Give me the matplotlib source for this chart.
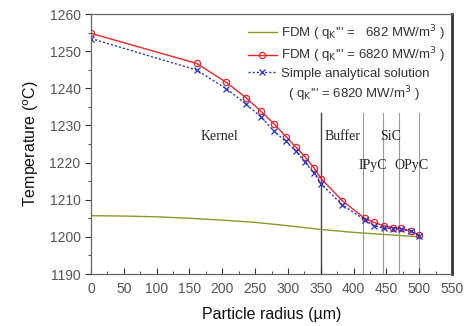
import matplotlib
matplotlib.use("Agg")
import matplotlib.pyplot as plt
from matplotlib.ticker import MultipleLocator

# ---- data ----
r_fdm = [0, 161, 206, 236, 259, 279, 297, 312, 326, 340, 351, 383, 417, 431, 446, 460, 472, 487, 500]
t_fdm_high = [1254.8, 1246.7, 1241.6, 1237.5, 1233.8, 1230.4, 1227.0, 1224.2, 1221.6, 1218.5,
              1215.6, 1209.7, 1205.0, 1203.9, 1203.0, 1202.5, 1202.3, 1201.6, 1200.5]
t_analytic = [1253.4, 1244.9, 1239.9, 1235.8, 1232.3, 1228.4, 1225.7, 1223.1, 1220.1, 1217.1,
              1214.2, 1208.6, 1204.6, 1203.0, 1202.4, 1202.2, 1202.1, 1201.6, 1200.2]
r_low = [0, 50, 100, 150, 200, 250, 300, 350, 400, 450, 500]
t_fdm_low = [1205.7, 1205.6, 1205.4, 1205.0, 1204.5, 1203.9, 1203.0, 1202.0, 1201.2, 1200.6, 1200.0]

boundaries = [350, 415, 445, 470, 500]
layer_names = ["Kernel", "Buffer", "IPyC", "SiC", "OPyC"]
layer_x = [196, 383, 430, 457, 488]
layer_y = [1226.9, 1226.9, 1219.3, 1226.9, 1219.3]

xticks = list(range(0, 551, 50))
yticks = list(range(1190, 1261, 10))

# ---- figure ----
plt.rcParams['font.family'] = ['Liberation Sans', 'DejaVu Sans']
fig = plt.figure(figsize=(4.70, 3.26), dpi=100)
ax = fig.add_axes([91/470, 1 - 274/326, (452-91)/470, (274-14)/326])

ax.plot(r_low, t_fdm_low, color='#8a9a2a', lw=1.0,
        label="FDM ( q$_{\\rm K}$''' =   682 MW/m$^3$ )")
ax.plot(r_fdm, t_fdm_high, color='#e8262a', lw=1.0, marker='o', ms=4.5,
        mfc='none', mec='#e8262a', mew=0.9,
        label="FDM ( q$_{\\rm K}$''' = 6820 MW/m$^3$ )")
ax.plot(r_fdm, t_analytic, color='#2233cc', lw=1.0, ls=(0, (1.5, 1.5)), marker='x', ms=4.5,
        mew=0.9, label="Simple analytical solution")

for i, b in enumerate(boundaries):
    ax.plot([b, b], [1190, 1233.3], color='#444444' if i == 0 else '#999999',
            lw=1.0 if i == 0 else 0.8, zorder=1)

for name, x, y in zip(layer_names, layer_x, layer_y):
    ax.text(x, y, name, family=['Liberation Serif', 'DejaVu Serif'], fontsize=10,
            ha='center', va='center', color='#222222')

ax.set_xlim(0, 550)
ax.set_ylim(1190, 1260)
ax.set_xticks(xticks)
ax.set_yticks(yticks)
ax.xaxis.set_minor_locator(MultipleLocator(25))
ax.yaxis.set_minor_locator(MultipleLocator(5))
ax.tick_params(axis='x', which='both', direction='in', colors='#333333', labelcolor='#555555',
               labelsize=10, pad=6)
ax.tick_params(axis='x', which='major', length=4)
ax.tick_params(axis='x', which='minor', length=2.5)
ax.tick_params(axis='y', which='both', direction='out', colors='#333333', labelcolor='#555555',
               labelsize=10)
ax.tick_params(axis='y', which='major', length=4)
ax.tick_params(axis='y', which='minor', length=2.5)

for s in ['left', 'top', 'bottom']:
    ax.spines[s].set_color('#666666')
    ax.spines[s].set_linewidth(0.9)
ax.spines['right'].set_color('#333333')
ax.spines['right'].set_linewidth(2.0)

ax.set_xlabel("Particle radius (\u00b5m)", fontsize=11.5, color='#111111', labelpad=8)
ax.set_ylabel("Temperature ($^{\\rm o}$C)", fontsize=11.5, color='#111111', labelpad=6)

leg = ax.legend(loc='upper left', bbox_to_anchor=(0.42, 0.985), frameon=False, fontsize=9.5,
                handlelength=2.2, handletextpad=0.3, labelspacing=0.2, borderaxespad=0)
for t in leg.get_texts():
    t.set_color('#333333')
ax.text(0.545, 0.69, "( q$_{\\rm K}$''' = 6820 MW/m$^3$ )", transform=ax.transAxes,
        fontsize=9.5, color='#333333', va='center', ha='left')

fig.savefig("out.png", dpi=100)
